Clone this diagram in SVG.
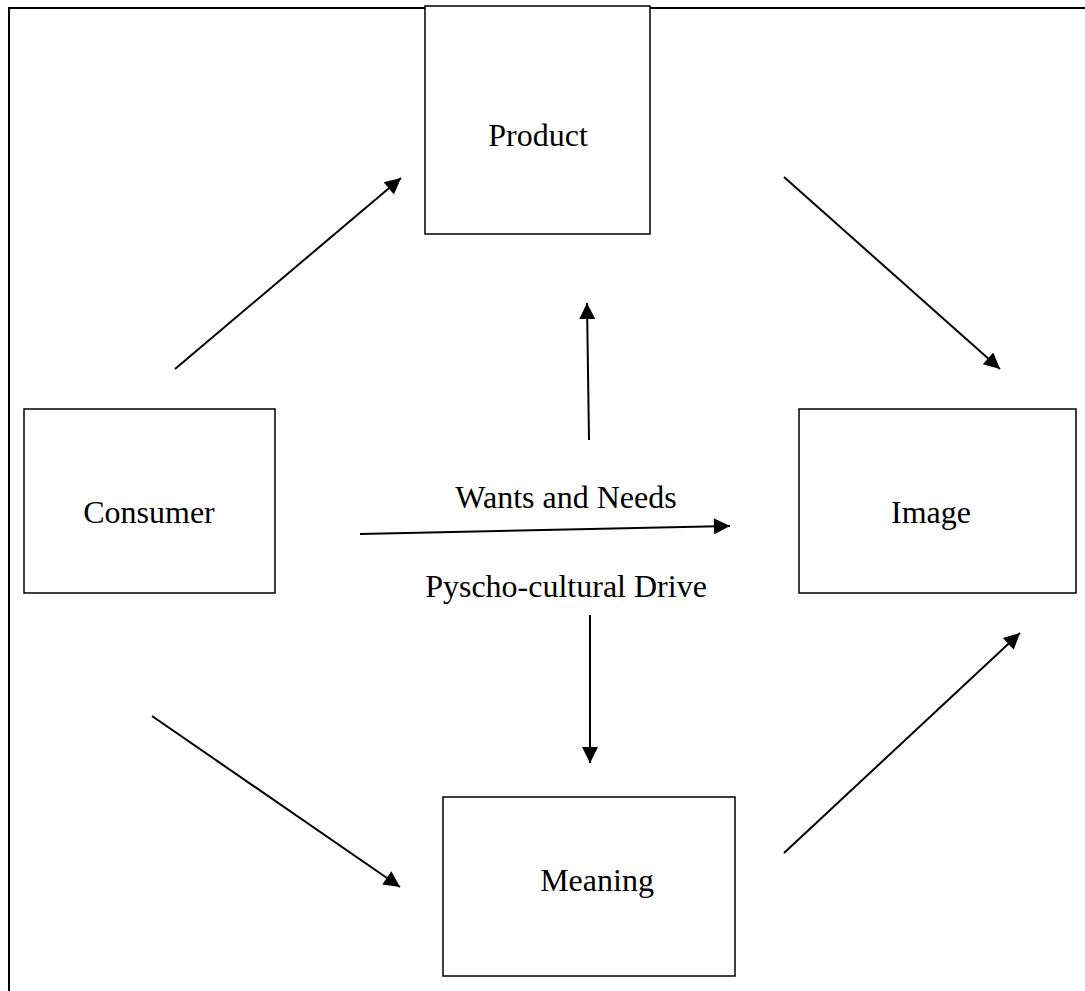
<svg xmlns="http://www.w3.org/2000/svg" width="1085" height="991" viewBox="0 0 1085 991">
<style>
.box{fill:#fff;stroke:#000;stroke-width:1.5}
.t{font-family:"Liberation Serif","Times New Roman",serif;font-size:32px;fill:#000;text-anchor:middle}
.c{stroke:#000;stroke-width:2;fill:none;marker-end:url(#ah)}
</style>
<defs>
<marker id="ah" viewBox="0 0 10 10" refX="10" refY="5" markerWidth="11" markerHeight="8" markerUnits="strokeWidth" orient="auto">
<path d="M0,0 L10,5 L0,10 z" fill="#000"/>
</marker>
</defs>
<rect width="1085" height="991" fill="#fff"/>
<path d="M9,991 V8 H1085" stroke="#000" stroke-width="2" fill="none"/>
<g id="product"><rect class="box" x="425" y="6" width="225" height="228"/><text class="t" x="538" y="146">Product</text></g>
<g id="consumer"><rect class="box" x="24" y="409" width="251" height="184"/><text class="t" x="149" y="523">Consumer</text></g>
<g id="image"><rect class="box" x="799" y="409" width="277" height="184"/><text class="t" x="931" y="523">Image</text></g>
<g id="meaning"><rect class="box" x="443" y="797" width="292" height="179"/><text class="t" x="597" y="891">Meaning</text></g>
<g id="labels">
<text class="t" x="566" y="508">Wants and Needs</text>
<text class="t" x="566" y="597">Pyscho-cultural Drive</text>
</g>
<g id="connectors">
<line class="c" x1="175" y1="369" x2="401" y2="178"/>
<line class="c" x1="784" y1="177" x2="1000" y2="369"/>
<line class="c" x1="589" y1="440" x2="587" y2="303"/>
<line class="c" x1="360" y1="534" x2="730" y2="526"/>
<line class="c" x1="590" y1="615" x2="590" y2="763"/>
<line class="c" x1="152" y1="716" x2="400" y2="887"/>
<line class="c" x1="784" y1="853" x2="1020" y2="633"/>
</g>
</svg>
